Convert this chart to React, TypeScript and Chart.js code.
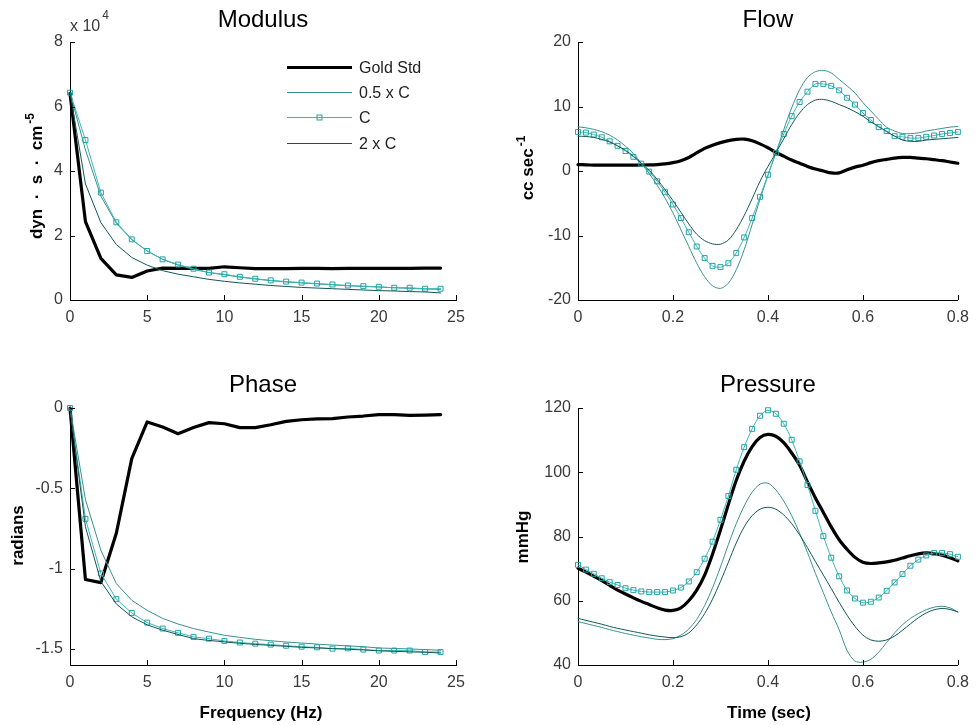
import React, { useEffect, useRef } from "react";
import { Chart, registerables } from "chart.js";

Chart.register(...registerables);

// ---------------- data ----------------
const seriesNames = ["Gold Std", "0.5 x C", "C", "2 x C"];

const freqHz = [0, 1, 2, 3, 4, 5, 6, 7, 8, 9, 10, 11, 12, 13, 14, 15, 16, 17, 18, 19, 20, 21, 22, 23, 24];

// modulus, in units of 10^4 dyn·s·cm^-5
const modulusGold = [6.41, 2.43, 1.29, 0.78, 0.7, 0.9, 0.99, 0.98, 0.98, 0.98, 1.03, 1.0, 0.97, 0.97, 0.97, 0.98, 0.98, 0.97, 0.98, 0.98, 0.98, 0.98, 0.98, 0.99, 0.99];
const modulusHalfC = [6.43, 4.65, 3.22, 2.38, 1.87, 1.52, 1.26, 1.08, 0.95, 0.85, 0.78, 0.71, 0.65, 0.6, 0.56, 0.53, 0.5, 0.47, 0.44, 0.42, 0.4, 0.38, 0.36, 0.34, 0.33];
const modulusC = [6.43, 4.96, 3.33, 2.41, 1.88, 1.52, 1.26, 1.1, 0.97, 0.85, 0.8, 0.72, 0.66, 0.61, 0.57, 0.54, 0.51, 0.48, 0.45, 0.43, 0.41, 0.38, 0.38, 0.35, 0.35];
const modulusDoubleC = [6.43, 3.6, 2.4, 1.72, 1.32, 1.08, 0.91, 0.8, 0.72, 0.64, 0.58, 0.53, 0.49, 0.45, 0.42, 0.39, 0.37, 0.35, 0.33, 0.31, 0.29, 0.28, 0.26, 0.25, 0.22];

// phase, radians
const phaseGold = [0, -1.068, -1.087, -0.78, -0.315, -0.087, -0.118, -0.16, -0.122, -0.091, -0.098, -0.122, -0.122, -0.104, -0.083, -0.073, -0.068, -0.066, -0.056, -0.05, -0.041, -0.041, -0.046, -0.044, -0.041];
const phaseHalfC = [0, -0.57, -0.886, -1.093, -1.197, -1.26, -1.31, -1.345, -1.373, -1.395, -1.415, -1.428, -1.44, -1.449, -1.457, -1.463, -1.47, -1.476, -1.481, -1.486, -1.494, -1.497, -1.5, -1.504, -1.508];
const phaseC = [0, -0.69, -1.03, -1.19, -1.276, -1.336, -1.373, -1.4, -1.425, -1.436, -1.45, -1.46, -1.467, -1.473, -1.48, -1.486, -1.49, -1.498, -1.496, -1.504, -1.51, -1.51, -1.51, -1.519, -1.519];
const phaseDoubleC = [0, -0.74, -1.08, -1.22, -1.3, -1.35, -1.383, -1.41, -1.436, -1.447, -1.456, -1.465, -1.472, -1.478, -1.484, -1.49, -1.494, -1.498, -1.502, -1.506, -1.512, -1.515, -1.518, -1.521, -1.525];

const timeSec = [0, 0.0167, 0.0333, 0.05, 0.0667, 0.0833, 0.1, 0.1167, 0.1333, 0.15, 0.1667, 0.1833, 0.2, 0.2167, 0.2333, 0.25, 0.2667, 0.2833, 0.3, 0.3167, 0.3333, 0.35, 0.3667, 0.3833, 0.4, 0.4167, 0.4333, 0.45, 0.4667, 0.4833, 0.5, 0.5167, 0.5333, 0.55, 0.5667, 0.5833, 0.6, 0.6167, 0.6333, 0.65, 0.6667, 0.6833, 0.7, 0.7167, 0.7333, 0.75, 0.7667, 0.7833, 0.8];

// flow, cc/sec
const flowGold = [1.0, 0.95, 0.92, 0.9, 0.9, 0.9, 0.9, 0.92, 0.93, 0.95, 1.0, 1.1, 1.3, 1.6, 2.1, 2.8, 3.5, 4.0, 4.4, 4.7, 4.9, 4.95, 4.7, 4.2, 3.6, 2.9, 2.3, 1.7, 1.2, 0.7, 0.3, 0.0, -0.3, -0.3, 0.2, 0.6, 0.9, 1.3, 1.6, 1.8, 2.0, 2.1, 2.1, 2.0, 1.9, 1.75, 1.6, 1.4, 1.2];
const flowHalfC = [6.84, 6.7, 6.45, 6.1, 5.55, 4.8, 3.85, 2.7, 1.2, -0.4, -2.2, -4.2, -6.5, -9.1, -11.7, -14.3, -16.4, -17.8, -18.2, -17.4, -15.3, -12.2, -8.3, -4.4, -0.7, 2.8, 6.4, 9.8, 12.6, 14.5, 15.4, 15.6, 15.2, 14.2, 13.2, 12.1, 10.6, 9.3, 8.0, 6.8, 6.2, 5.8, 5.8, 5.9, 6.2, 6.4, 6.6, 6.8, 6.9];
const flowC = [6.06, 5.96, 5.65, 5.23, 4.6, 3.9, 3.1, 2.2, 1.14, -0.1, -1.6, -3.3, -5.2, -7.3, -9.5, -11.7, -13.5, -14.7, -14.9, -14.3, -12.7, -10.3, -7.3, -4.0, -0.57, 2.8, 5.75, 8.5, 10.7, 12.3, 13.5, 13.5, 13.2, 12.5, 11.35, 10.3, 9.0, 7.9, 6.8, 6.2, 5.4, 5.3, 5.1, 5.1, 5.3, 5.5, 5.75, 5.9, 6.06];
const flowDoubleC = [5.4, 5.35, 5.2, 4.9, 4.5, 3.9, 3.2, 2.3, 1.2, 0.1, -1.3, -2.9, -4.6, -6.4, -8.2, -9.8, -10.8, -11.3, -11.35, -10.7, -9.1, -6.9, -4.3, -1.6, 0.7, 2.8, 5.0, 7.2, 9.0, 10.3, 11.0, 11.1, 10.8, 10.3, 9.8, 9.2, 8.5, 7.6, 6.9, 6.1, 5.4, 4.8, 4.6, 4.6, 4.8, 4.9, 5.0, 5.1, 5.2];

// pressure, mmHg
const pressureGold = [70.1, 68.9, 67.6, 66.3, 64.8, 63.3, 62.1, 60.9, 59.8, 58.8, 57.8, 57.1, 57.0, 57.8, 60.0, 63.3, 68.0, 74.5, 82.0, 90.0, 97.5, 103.5, 108.0, 110.8, 111.8, 111.2, 109.2, 106.0, 102.2, 97.0, 92.0, 87.5, 83.0, 79.0, 76.0, 73.5, 72.0, 71.6, 71.8, 72.1, 72.6, 73.3, 74.0, 74.6, 74.9, 74.7, 74.2, 73.4, 72.4];
const pressureHalfC = [53.5, 52.9, 52.3, 51.7, 51.0, 50.4, 49.8, 49.3, 48.8, 48.4, 48.0, 47.9, 48.2, 49.3, 51.2, 54.2, 58.5, 64.0, 70.5, 77.5, 84.0, 89.5, 93.8, 96.3, 96.6, 94.5, 91.0, 86.5, 81.0, 75.0, 68.5, 62.5, 56.5, 51.0, 44.5, 41.2, 40.9, 41.8, 44.0, 47.0, 50.0, 52.5, 54.5, 56.0, 57.2, 58.0, 58.3, 57.8, 56.5];
const pressureC = [71.2, 69.7, 68.4, 67.0, 65.8, 64.9, 63.9, 63.3, 62.9, 62.7, 62.7, 62.7, 63.2, 64.1, 66.0, 68.9, 73.1, 78.4, 85.2, 92.6, 100.8, 107.8, 113.5, 117.6, 119.3, 118.2, 115.1, 110.1, 103.4, 96.0, 88.0, 80.1, 73.4, 67.6, 63.2, 60.7, 59.4, 59.7, 61.0, 63.1, 65.7, 68.3, 70.9, 72.8, 74.1, 74.9, 74.9, 74.5, 73.7];
const pressureDoubleC = [54.5, 53.9, 53.3, 52.7, 52.0, 51.4, 50.9, 50.4, 49.9, 49.4, 49.0, 48.7, 48.5, 48.8, 50.0, 52.5, 56.0, 60.5, 66.0, 72.0, 78.0, 83.0, 86.5, 88.5, 89.1, 88.5, 86.7, 84.0, 80.5, 76.5, 72.2, 68.0, 63.8, 59.5, 55.5, 52.0, 49.3, 47.8, 47.4, 47.8, 49.0, 50.8, 52.8, 54.7, 56.2, 57.2, 57.6, 57.3, 56.5];

// tick labels
const freqTicks = [0, 5, 10, 15, 20, 25];
const timeTicks = [0, 0.2, 0.4, 0.6, 0.8];
const modulusTicks = [0, 2, 4, 6, 8];
const phaseTicks = [-1.5, -1, -0.5, 0];
const flowTicks = [-20, -10, 0, 10, 20];
const pressureTicks = [40, 60, 80, 100, 120];

// ---------------- styles ----------------
const FONT = '"Liberation Sans", Arial, Helvetica, sans-serif';
const GOLD = "#000000";
const HALF = "#3b8f8f";
const CLINE = "#3ab7b7";
const CMARK = "#22a4a4";
const DBL = "#115656";
const TICK_COLOR = "#3a3a3a";

type Spec = {
  key: string;
  x: number; y: number; w: number; h: number;
  area: { l: number; t: number; r: number; b: number };
  title: string; titleY: number;
  xs: number[];
  series: number[][];
  xMin: number; xMax: number; xTicks: number[];
  yMin: number; yMax: number; yTicks: number[];
  tension: number;
  yLabel: { text: string; sup?: string; bx: number; cy: number };
  xLabel?: { text: string; cx: number; by: number };
  exponent?: boolean;
  legend?: boolean;
};

const specs: Spec[] = [
  {
    key: "modulus", x: 0, y: 0, w: 488, h: 362,
    area: { l: 70, t: 42, r: 456, b: 300 },
    title: "Modulus", titleY: 27,
    xs: freqHz, series: [modulusGold, modulusHalfC, modulusC, modulusDoubleC],
    xMin: 0, xMax: 25, xTicks: freqTicks, yMin: 0, yMax: 8, yTicks: modulusTicks,
    tension: 0,
    yLabel: { text: "dyn  \u00b7  s  \u00b7  cm", sup: "-5", bx: 41.5, cy: 176 },
    exponent: true, legend: true,
  },
  {
    key: "flow", x: 488, y: 0, w: 489, h: 362,
    area: { l: 90, t: 42, r: 476, b: 300 },
    title: "Flow", titleY: 27,
    xs: timeSec, series: [flowGold, flowHalfC, flowC, flowDoubleC],
    xMin: 0, xMax: 0.8, xTicks: timeTicks, yMin: -20, yMax: 20, yTicks: flowTicks,
    tension: 0.3,
    yLabel: { text: "cc sec", sup: "-1", bx: 45, cy: 168 },
  },
  {
    key: "phase", x: 0, y: 362, w: 488, h: 363,
    area: { l: 70, t: 46, r: 456, b: 303 },
    title: "Phase", titleY: 30,
    xs: freqHz, series: [phaseGold, phaseHalfC, phaseC, phaseDoubleC],
    xMin: 0, xMax: 25, xTicks: freqTicks, yMin: -1.6, yMax: 0, yTicks: phaseTicks,
    tension: 0,
    yLabel: { text: "radians", bx: 23, cy: 173.5 },
    xLabel: { text: "Frequency (Hz)", cx: 261, by: 356 },
  },
  {
    key: "pressure", x: 488, y: 362, w: 489, h: 363,
    area: { l: 90, t: 46, r: 476, b: 303 },
    title: "Pressure", titleY: 30,
    xs: timeSec, series: [pressureGold, pressureHalfC, pressureC, pressureDoubleC],
    xMin: 0, xMax: 0.8, xTicks: timeTicks, yMin: 40, yMax: 120, yTicks: pressureTicks,
    tension: 0.3,
    yLabel: { text: "mmHg", bx: 40, cy: 175 },
    xLabel: { text: "Time (sec)", cx: 281, by: 356 },
  },
];

const seriesStyles: any[] = [
  { borderColor: GOLD, borderWidth: 3.2, pointRadius: 0 },
  { borderColor: HALF, borderWidth: 1, pointRadius: 0 },
  {
    borderColor: CLINE, borderWidth: 1, pointRadius: 3.5, pointStyle: "rect",
    pointBorderColor: CMARK, pointBackgroundColor: "rgba(255,255,255,0)", pointBorderWidth: 1,
  },
  { borderColor: DBL, borderWidth: 1, pointRadius: 0 },
];

const fmt = (v: number) => String(Math.round(v * 1000) / 1000);

function makeDecor(s: Spec) {
  return {
    id: "decor_" + s.key,
    afterDatasetsDraw(chart: any) {
      const { ctx, chartArea: a } = chart;
      const xs = chart.scales.x;
      const ys = chart.scales.y;
      ctx.save();
      ctx.strokeStyle = "#000";
      ctx.lineWidth = 1;
      ctx.beginPath();
      xs.ticks.forEach((_t: any, i: number) => {
        const p = Math.round(xs.getPixelForTick(i)) + 0.5;
        ctx.moveTo(p, a.bottom);
        ctx.lineTo(p, a.bottom - 5);
      });
      ys.ticks.forEach((_t: any, i: number) => {
        const p = Math.round(ys.getPixelForTick(i)) + 0.5;
        ctx.moveTo(a.left, p);
        ctx.lineTo(a.left + 5, p);
      });
      ctx.stroke();
      ctx.restore();
    },
    afterDraw(chart: any) {
      const { ctx, chartArea: a } = chart;
      ctx.save();
      ctx.fillStyle = "#000";
      // title
      ctx.font = `24px ${FONT}`;
      ctx.textAlign = "center";
      ctx.textBaseline = "alphabetic";
      ctx.fillText(s.title, (a.left + a.right) / 2, s.titleY);

      // exponent
      if (s.exponent) {
        ctx.fillStyle = TICK_COLOR;
        ctx.textAlign = "left";
        ctx.font = `16px ${FONT}`;
        const base = "x 10";
        ctx.fillText(base, a.left, 31);
        const bw = ctx.measureText(base).width;
        ctx.font = `12px ${FONT}`;
        ctx.fillText("4", a.left + bw + 2, 19);
        ctx.fillStyle = "#000";
      }

      // y label (rotated)
      const yl = s.yLabel;
      ctx.save();
      ctx.translate(yl.bx, yl.cy);
      ctx.rotate(-Math.PI / 2);
      ctx.textAlign = "left";
      ctx.font = `bold 17px ${FONT}`;
      const w1 = ctx.measureText(yl.text).width;
      let w2 = 0;
      if (yl.sup) {
        ctx.font = `bold 12px ${FONT}`;
        w2 = ctx.measureText(yl.sup).width + 2;
      }
      const total = w1 + w2;
      ctx.font = `bold 17px ${FONT}`;
      ctx.fillText(yl.text, -total / 2, 0);
      if (yl.sup) {
        ctx.font = `bold 12px ${FONT}`;
        ctx.fillText(yl.sup, -total / 2 + w1 + 2, -8);
      }
      ctx.restore();

      // x label
      if (s.xLabel) {
        ctx.font = `bold 17px ${FONT}`;
        ctx.textAlign = "center";
        ctx.fillText(s.xLabel.text, s.xLabel.cx, s.xLabel.by);
      }

      // legend
      if (s.legend) {
        const rows = [66.5, 92, 117, 142.5];
        const x0 = 287;
        const x1 = 352;
        chart.data.datasets.forEach((ds: any, k: number) => {
          const y = Math.round(rows[k]) + 0.5;
          ctx.strokeStyle = ds.borderColor;
          ctx.lineWidth = ds.borderWidth;
          ctx.beginPath();
          ctx.moveTo(x0, y);
          ctx.lineTo(x1, y);
          ctx.stroke();
          if (ds.pointRadius > 0) {
            const sz = ds.pointRadius * Math.SQRT1_2;
            ctx.strokeStyle = ds.pointBorderColor;
            ctx.lineWidth = 1;
            ctx.strokeRect((x0 + x1) / 2 - sz, y - sz, 2 * sz, 2 * sz);
          }
          ctx.fillStyle = "#222";
          ctx.font = `16px ${FONT}`;
          ctx.textAlign = "left";
          ctx.textBaseline = "middle";
          ctx.fillText(ds.label, 359, y + 1);
        });
      }
      ctx.restore();
    },
  };
}

function buildConfig(s: Spec): any {
  const datasets = s.series.map((vals, k) => ({
    label: seriesNames[k],
    data: vals.map((v, i) => ({ x: s.xs[i], y: v })),
    ...seriesStyles[k],
    tension: s.tension,
    order: 4 - k,
    clip: false,
    fill: false,
    borderJoinStyle: "round",
    borderCapStyle: "round",
  }));
  const tickFont = { family: FONT, size: 16 };
  return {
    type: "line",
    data: { datasets },
    options: {
      animation: false,
      responsive: false,
      maintainAspectRatio: false,
      devicePixelRatio: 1,
      layout: {
        autoPadding: false,
        padding: { top: s.area.t, right: s.w - s.area.r, left: 0, bottom: 0 },
      },
      plugins: {
        legend: { display: false },
        title: { display: false },
        tooltip: { enabled: false },
      },
      scales: {
        x: {
          type: "linear",
          position: "bottom",
          min: s.xMin,
          max: s.xMax,
          afterBuildTicks: (sc: any) => {
            sc.ticks = s.xTicks.map((v) => ({ value: v }));
          },
          afterFit: (sc: any) => {
            sc.height = s.h - s.area.b;
          },
          ticks: {
            font: tickFont, color: TICK_COLOR, padding: 8, maxRotation: 0, autoSkip: false,
            callback: (v: number) => fmt(v),
          },
          grid: { display: false, drawTicks: false, tickLength: 0 },
          border: { display: true, color: "#000", width: 1 },
        },
        y: {
          type: "linear",
          position: "left",
          min: s.yMin,
          max: s.yMax,
          afterBuildTicks: (sc: any) => {
            sc.ticks = s.yTicks.map((v) => ({ value: v }));
          },
          afterFit: (sc: any) => {
            sc.width = s.area.l;
          },
          ticks: {
            font: tickFont, color: TICK_COLOR, padding: 7, autoSkip: false,
            callback: (v: number) => fmt(v),
          },
          grid: { display: false, drawTicks: false, tickLength: 0 },
          border: { display: true, color: "#000", width: 1 },
        },
      },
    },
    plugins: [makeDecor(s)],
  };
}

function Panel({ spec }: { spec: Spec }) {
  const ref = useRef<HTMLCanvasElement>(null);
  useEffect(() => {
    const canvas = ref.current;
    if (!canvas) return;
    const chart = new Chart(canvas, buildConfig(spec));
    return () => chart.destroy();
  }, [spec]);
  return (
    <canvas
      ref={ref}
      width={spec.w}
      height={spec.h}
      style={{ position: "absolute", left: spec.x, top: spec.y, width: spec.w, height: spec.h, display: "block" }}
    />
  );
}

export default function App() {
  return (
    <div style={{ position: "absolute", left: 0, top: 0, width: 977, height: 725, background: "#fff" }}>
      {specs.map((s) => (
        <Panel key={s.key} spec={s} />
      ))}
    </div>
  );
}
